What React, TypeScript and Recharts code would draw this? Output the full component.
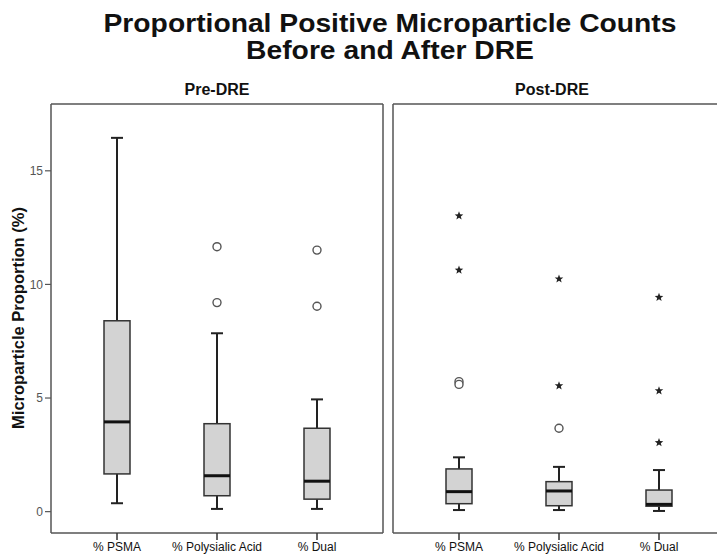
// Box plots of positive microparticle proportions, pre- vs post-DRE.
// Each box is a range Bar [min, max] with a custom shape; outliers are Scatter series.
import { ComposedChart, Bar, Scatter, XAxis, YAxis } from 'recharts';

const categories = ['% PSMA', '% Polysialic Acid', '% Dual'];
const yTicks = [0, 5, 10, 15];

// Pre-DRE five-number summaries
const preMin = [0.37, 0.12, 0.12];
const preQ1 = [1.66, 0.7, 0.55];
const preMedian = [3.95, 1.58, 1.34];
const preQ3 = [8.4, 3.87, 3.67];
const preMax = [16.45, 7.85, 4.94];
const preCircleHigh = [null, 11.66, 11.51];
const preCircleLow = [null, 9.2, 9.04];

// Post-DRE five-number summaries
const postMin = [0.07, 0.07, 0.03];
const postQ1 = [0.35, 0.26, 0.24];
const postMedian = [0.88, 0.91, 0.32];
const postQ3 = [1.88, 1.32, 0.95];
const postMax = [2.39, 1.97, 1.83];
const postCircleHigh = [5.72, 3.67, null];
const postCircleLow = [5.6, null, null];
const postStarHigh = [13.02, 10.24, 9.43];
const postStarMid = [10.63, 5.54, 5.32];
const postStarLow = [null, null, 3.04];

const Y_DOMAIN: [number, number] = [-0.94, 17.94];
const FONT = '"Liberation Sans", Arial, sans-serif';
const BORDER = '#555';

interface Row {
  cat: string;
  range: [number, number];
  q1: number;
  med: number;
  q3: number;
  c1: number | null;
  c2: number | null;
  s1: number | null;
  s2: number | null;
  s3: number | null;
}

const buildRows = (
  mins: number[],
  q1s: number[],
  meds: number[],
  q3s: number[],
  maxs: number[],
  c1: (number | null)[],
  c2: (number | null)[],
  s1: (number | null)[],
  s2: (number | null)[],
  s3: (number | null)[],
): Row[] =>
  categories.map((cat, i) => ({
    cat,
    range: [mins[i], maxs[i]],
    q1: q1s[i],
    med: meds[i],
    q3: q3s[i],
    c1: c1[i],
    c2: c2[i],
    s1: s1[i],
    s2: s2[i],
    s3: s3[i],
  }));

const nulls = [null, null, null];
const preRows = buildRows(preMin, preQ1, preMedian, preQ3, preMax, preCircleHigh, preCircleLow, nulls, nulls, nulls);
const postRows = buildRows(
  postMin,
  postQ1,
  postMedian,
  postQ3,
  postMax,
  postCircleHigh,
  postCircleLow,
  postStarHigh,
  postStarMid,
  postStarLow,
);

// box + whiskers; inner values mapped linearly within the bar's [min, max] pixel span
const BoxShape = (props: any) => {
  const { x, y, width, height, payload } = props;
  const [lo, hi] = payload.range;
  const py = (v: number) => y + (height * (hi - v)) / (hi - lo);
  const cx = x + width / 2;
  const cap = 6;
  const top = py(payload.q3);
  const bot = py(payload.q1);
  return (
    <g>
      <line x1={cx} x2={cx} y1={y} y2={top} stroke="#222" strokeWidth={2} />
      <line x1={cx} x2={cx} y1={bot} y2={y + height} stroke="#222" strokeWidth={2} />
      <line x1={cx - cap} x2={cx + cap} y1={y} y2={y} stroke="#222" strokeWidth={2} />
      <line x1={cx - cap} x2={cx + cap} y1={y + height} y2={y + height} stroke="#222" strokeWidth={2} />
      <rect x={x} y={top} width={width} height={bot - top} fill="#d3d3d3" stroke="#333" strokeWidth={1.5} />
      <line x1={x} x2={x + width} y1={py(payload.med)} y2={py(payload.med)} stroke="#111" strokeWidth={3} />
    </g>
  );
};

const CircleShape = (props: any) => {
  const { cx, cy } = props;
  if (cx == null || cy == null || Number.isNaN(cy)) return <g />;
  return <circle cx={cx} cy={cy} r={4} fill="#fff" stroke="#555" strokeWidth={1.4} />;
};

const StarShape = (props: any) => {
  const { cx, cy } = props;
  if (cx == null || cy == null || Number.isNaN(cy)) return <g />;
  const pts: string[] = [];
  for (let k = 0; k < 10; k++) {
    const r = k % 2 === 0 ? 4.5 : 1.9;
    const a = -Math.PI / 2 + (k * Math.PI) / 5;
    pts.push(`${cx + r * Math.cos(a)},${cy + r * Math.sin(a)}`);
  }
  return <polygon points={pts.join(' ')} fill="#222" />;
};

const Panel = ({
  rows,
  showY,
  showRight,
  width,
  margin,
}: {
  rows: Row[];
  showY: boolean;
  showRight: boolean;
  width: number;
  margin: any;
}) => (
  <ComposedChart width={width} height={557} data={rows} margin={margin}>
    <XAxis
      dataKey="cat"
      height={24}
      padding={{ left: 16, right: 16 }}
      tickSize={7}
      tick={{ fill: '#111', fontSize: 12, fontFamily: FONT }}
      axisLine={{ stroke: BORDER, strokeWidth: 1.5 }}
      tickLine={{ stroke: '#333', strokeWidth: 1.5 }}
      interval={0}
    />
    <XAxis
      xAxisId="top"
      dataKey="cat"
      orientation="top"
      height={1}
      tick={false}
      tickLine={false}
      axisLine={{ stroke: BORDER, strokeWidth: 1.5 }}
    />
    <YAxis
      type="number"
      domain={Y_DOMAIN}
      ticks={yTicks}
      allowDataOverflow
      width={showY ? 51 : 1}
      tick={showY ? { fill: '#555', fontSize: 12, fontFamily: FONT } : false}
      tickSize={6}
      tickLine={showY ? { stroke: '#555', strokeWidth: 1.2 } : false}
      axisLine={{ stroke: BORDER, strokeWidth: 1.5 }}
    />
    <YAxis
      yAxisId="right"
      orientation="right"
      domain={Y_DOMAIN}
      width={1}
      tick={false}
      tickLine={false}
      axisLine={showRight ? { stroke: BORDER, strokeWidth: 1.5 } : false}
    />
    <Bar dataKey="range" barSize={26} shape={BoxShape} isAnimationActive={false} />
    <Scatter dataKey="c1" shape={CircleShape} isAnimationActive={false} />
    <Scatter dataKey="c2" shape={CircleShape} isAnimationActive={false} />
    <Scatter dataKey="s1" shape={StarShape} isAnimationActive={false} />
    <Scatter dataKey="s2" shape={StarShape} isAnimationActive={false} />
    <Scatter dataKey="s3" shape={StarShape} isAnimationActive={false} />
  </ComposedChart>
);

export default function App() {
  return (
    <div
      style={{
        position: 'fixed',
        left: 0,
        top: 0,
        width: 717,
        height: 557,
        overflow: 'hidden',
        background: '#fff',
        fontFamily: FONT,
        color: '#111',
      }}
    >
      <div
        style={{
          position: 'absolute',
          left: 0,
          top: 10,
          width: 780,
          textAlign: 'center',
          fontSize: 25,
          lineHeight: '27px',
          fontWeight: 'bold',
          transform: 'scaleX(1.13)',
          transformOrigin: '390px 0',
        }}
      >
        Proportional Positive Microparticle Counts
        <br />
        Before and After DRE
      </div>
      <div style={{ position: 'absolute', left: 117, top: 80, width: 200, textAlign: 'center', fontSize: 16, lineHeight: '20px', fontWeight: 'bold' }}>
        Pre-DRE
      </div>
      <div style={{ position: 'absolute', left: 452, top: 80, width: 200, textAlign: 'center', fontSize: 16, lineHeight: '20px', fontWeight: 'bold' }}>
        Post-DRE
      </div>
      <div
        style={{
          position: 'absolute',
          left: 18,
          top: 318,
          transform: 'translate(-50%, -50%) rotate(-90deg)',
          whiteSpace: 'nowrap',
          fontSize: 16.5,
          fontWeight: 'bold',
        }}
      >
        Microparticle Proportion (%)
      </div>
      <div style={{ position: 'absolute', left: 0, top: 0 }}>
        <Panel rows={preRows} showY showRight width={390} margin={{ top: 103, right: 6, bottom: 0, left: 0 }} />
      </div>
      <div style={{ position: 'absolute', left: 386, top: 0 }}>
        <Panel rows={postRows} showY={false} showRight={false} width={350} margin={{ top: 103, right: 10, bottom: 0, left: 6 }} />
      </div>
    </div>
  );
}
